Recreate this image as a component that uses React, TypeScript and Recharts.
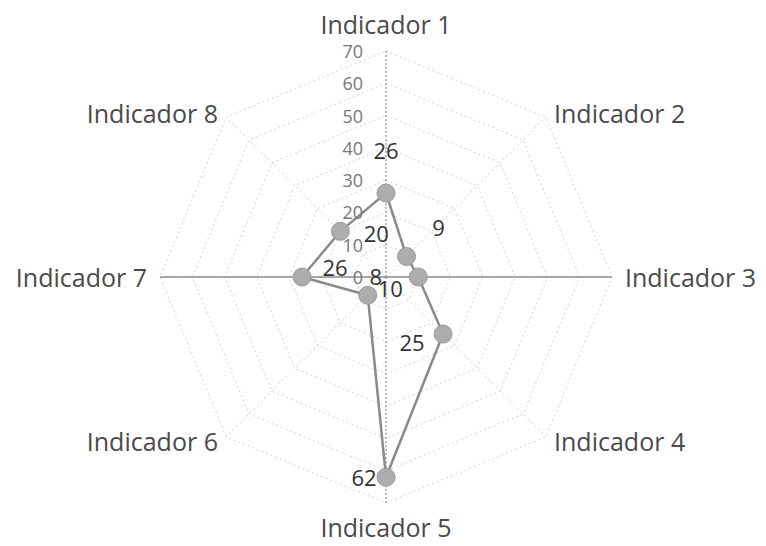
import { RadarChart, Radar, PolarGrid, PolarAngleAxis, PolarRadiusAxis } from 'recharts';

const indicators = [
  'Indicador 1',
  'Indicador 2',
  'Indicador 3',
  'Indicador 4',
  'Indicador 5',
  'Indicador 6',
  'Indicador 7',
  'Indicador 8',
];
const values = [26, 9, 10, 25, 62, 8, 26, 20];
const radiusTicks = [0, 10, 20, 30, 40, 50, 60, 70];

const data = indicators.map((name, i) => ({ name, value: values[i] }));

const W = 750;
const H = 538;
const CX = 378;
const CY = 269;
const OUTER = 226;
const FONT = '"Open Sans", "Noto Sans", sans-serif';

// where each value label sits relative to its point (hand placed, like in the original)
const labelOffsets = [
  [0, -43],
  [32, -29],
  [-28, 11],
  [-31, 8],
  [-22, 0],
  [8, -19],
  [33, -10],
  [36, 2],
];

function AngleTick(props: any) {
  const { x, y, payload } = props;
  const dx = x - CX;
  const dy = y - CY;
  const d = Math.hypot(dx, dy) || 1;
  const c = dx / d;
  const s = dy / d;
  const vertical = Math.abs(c) < 0.1;
  const horizontal = Math.abs(s) < 0.1;
  const r = vertical ? (s < 0 ? 253 : 250) : horizontal ? 239 : 232;
  const push = vertical || horizontal ? 0 : c > 0 ? 4 : -4;
  const anchor = vertical ? 'middle' : c > 0 ? 'start' : 'end';
  return (
    <text
      x={CX + c * r + push}
      y={CY + s * r}
      textAnchor={anchor}
      dominantBaseline="central"
      fontFamily={FONT}
      fontSize={25}
      fill="#4a4a4a"
    >
      {payload.value}
    </text>
  );
}

function RadiusTick(props: any) {
  const { x, y, payload } = props;
  return (
    <text
      x={x - 23}
      y={y}
      textAnchor="end"
      dominantBaseline="central"
      fontFamily={FONT}
      fontSize={18}
      fill="#777"
    >
      {payload.value}
    </text>
  );
}

function ValueDot(props: any) {
  const { cx, cy, index, payload } = props;
  const off = labelOffsets[index] || [0, 0];
  const v = payload && payload.value != null ? payload.value : props.value;
  return (
    <g key={`dot-${index}`}>
      <circle cx={cx} cy={cy} r={9} fill="#adadad" stroke="#9a9a9a" strokeWidth={1} />
      <text
        x={cx + off[0]}
        y={cy + off[1]}
        textAnchor="middle"
        dominantBaseline="central"
        fontFamily={FONT}
        fontSize={22}
        fill="#333"
      >
        {v}
      </text>
    </g>
  );
}

export default function App() {
  return (
    <div style={{ width: W, height: 530, background: '#fff', overflow: 'visible' }}>
      <RadarChart width={W} height={H} data={data} cx={CX} cy={CY} outerRadius={OUTER}>
        <PolarGrid gridType="polygon" stroke="#d2d2d2" strokeDasharray="2 3" />
        <PolarGrid gridType="polygon" polarRadius={[]} polarAngles={[0, 180]} stroke="#8c8c8c" strokeWidth={1.5} />
        <PolarGrid gridType="polygon" polarRadius={[]} polarAngles={[90, 270]} stroke="#8c8c8c" strokeDasharray="2 2" />
        <PolarAngleAxis dataKey="name" tick={AngleTick} tickLine={false} axisLine={false} />
        <PolarRadiusAxis
          angle={90}
          domain={[0, 70]}
          ticks={radiusTicks}
          tickCount={8}
          tick={RadiusTick}
          tickLine={false}
          axisLine={false}
        />
        <Radar
          dataKey="value"
          stroke="#8a8a8a"
          strokeWidth={2.5}
          fill="none"
          fillOpacity={0}
          dot={ValueDot}
          isAnimationActive={false}
        />
      </RadarChart>
    </div>
  );
}
